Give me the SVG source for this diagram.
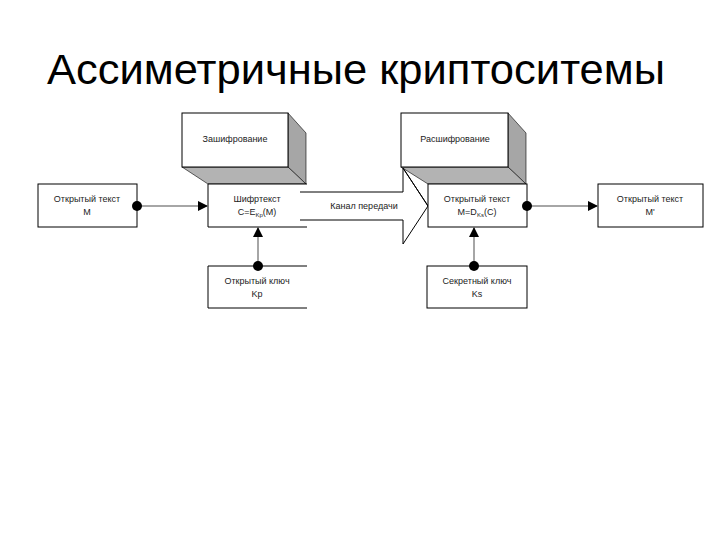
<svg xmlns="http://www.w3.org/2000/svg" width="720" height="540" viewBox="0 0 720 540">
<style>
.box{fill:#fff;stroke:#000;stroke-width:1}
.edge{fill:none;stroke:#000;stroke-width:1}
.side{fill:#a6a6a6;stroke:#000;stroke-width:0.6}
.bot{fill:#b3b3b3;stroke:#000;stroke-width:0.6}
.t{font-family:"Liberation Sans",Arial,sans-serif;font-size:9px;fill:#222;text-anchor:middle}
.sub{font-size:6px}
.con{stroke:#888;stroke-width:1.5;fill:none}
.dot{fill:#000}
</style>
<defs>
<marker id="ah" viewBox="0 0 10 10" refX="10" refY="5" markerWidth="10" markerHeight="10" markerUnits="userSpaceOnUse" orient="auto">
<path d="M0,0 L10,5 L0,10 Z" fill="#000"/>
</marker>
</defs>
<rect width="720" height="540" fill="#fff"/>
<text x="47" y="84" font-family="Liberation Sans, Arial, sans-serif" font-size="43" fill="#000" textLength="618" lengthAdjust="spacingAndGlyphs">Ассиметричные криптоситемы</text>

<g id="encrypt-block">
<polygon class="side" points="288,113 306,133 306,184 288,167"/>
<polygon class="bot" points="182,167 288,167 306,184 208,184"/>
<rect class="box" x="182" y="113" width="106" height="54"/>
<text class="t" x="235" y="142">Зашифрование</text>
</g>

<g id="cipher">
<rect x="208" y="184" width="99" height="43" fill="#fff"/>
<path class="edge" d="M307,184 H208 V227 H307"/>
<text class="t" x="257" y="202">Шифртекст</text>
<text class="t" x="257" y="215">C=E<tspan class="sub" dy="2">Kp</tspan><tspan dy="-2">(M)</tspan></text>
</g>

<g id="channel">
<polygon points="300,192 403,192 403,168 428,206 403,244 403,220 300,220" fill="#fff" stroke="none"/>
<path class="edge" d="M300,192 H403 V168 L428,206 L403,244 V220 H300"/>
<text class="t" x="364" y="209">Канал передачи</text>
</g>

<g id="decrypt-block">
<polygon class="side" points="508,113 526,133 526,184 508,167"/>
<polygon class="bot" points="401,167 508,167 526,184 428,184"/>
<rect class="box" x="401" y="113" width="107" height="54"/>
<path class="edge" d="M403,168 L428,206"/>
<text class="t" x="455" y="142">Расшифрование</text>
</g>

<g id="plain-in">
<rect class="box" x="38" y="184" width="99" height="43"/>
<text class="t" x="87" y="202">Открытый текст</text>
<text class="t" x="87" y="215">M</text>
</g>

<g id="plain-dec">
<rect class="box" x="428" y="184" width="99" height="43"/>
<text class="t" x="477" y="202">Открытый текст</text>
<text class="t" x="477" y="215">M=D<tspan class="sub" dy="2">Ks</tspan><tspan dy="-2">(C)</tspan></text>
</g>

<g id="plain-out">
<rect class="box" x="598" y="184" width="105" height="43"/>
<text class="t" x="650" y="202">Открытый текст</text>
<text class="t" x="650" y="215">M'</text>
</g>

<g id="key-public">
<path class="edge" d="M307,266 H208 V308 H307"/>
<text class="t" x="257" y="284">Открытый ключ</text>
<text class="t" x="257" y="297">Kp</text>
</g>

<g id="key-secret">
<rect class="box" x="427" y="266" width="100" height="42"/>
<text class="t" x="477" y="284">Секретный ключ</text>
<text class="t" x="477" y="297">Ks</text>
</g>

<g id="connectors">
<line class="con" x1="137" y1="206" x2="208" y2="206" marker-end="url(#ah)"/>
<circle class="dot" cx="137" cy="206" r="5"/>
<line class="con" x1="527" y1="206" x2="598" y2="206" marker-end="url(#ah)"/>
<circle class="dot" cx="527" cy="206" r="5"/>
<line class="con" x1="258" y1="266" x2="258" y2="227" marker-end="url(#ah)"/>
<circle class="dot" cx="258" cy="266" r="5"/>
<line class="con" x1="474" y1="266" x2="474" y2="227" marker-end="url(#ah)"/>
<circle class="dot" cx="474" cy="266" r="5"/>
</g>
</svg>
